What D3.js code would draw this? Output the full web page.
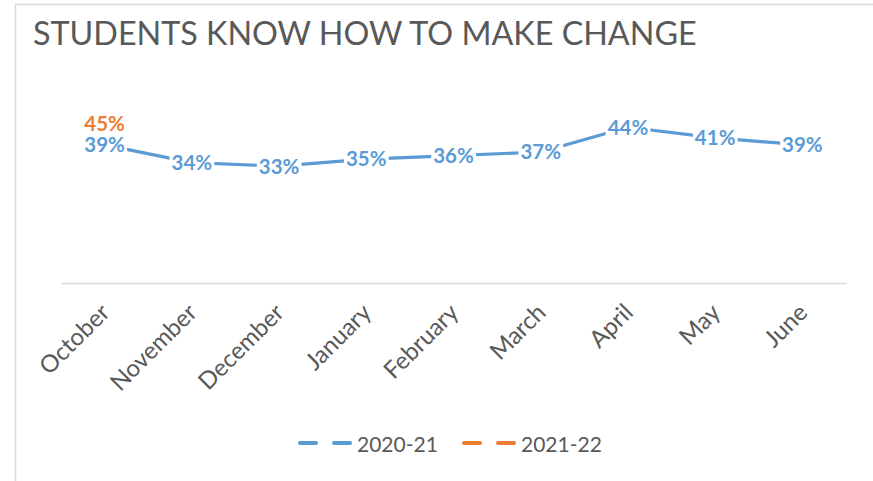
<!DOCTYPE html>
<html>
<head>
<meta charset="utf-8">
<script src="https://cdn.jsdelivr.net/npm/d3@7"></script>
<style>
  html, body { margin: 0; padding: 0; background: #fff; }
  svg { display: block; font-family: Lato, "Open Sans", sans-serif; }
</style>
</head>
<body>
<svg id="chart" width="873" height="481"></svg>
<script>
'use strict';

const months = ['October', 'November', 'December', 'January', 'February', 'March', 'April', 'May', 'June'];
const values2020 = [0.39, 0.34, 0.33, 0.35, 0.36, 0.37, 0.44, 0.41, 0.39];
const values2021 = [0.45];
const seriesNames = ['2020-21', '2021-22'];
const seriesColors = ['#5b9bd5', '#ed7d31'];
const yDomain = [0, 0.5];

const svg = d3.select('#chart');
const textColor = '#595959';

// chart frame (cropped at right / bottom)
svg.append('rect')
  .attr('x', 15.5).attr('y', 4.5)
  .attr('width', 900).attr('height', 520)
  .attr('fill', 'none')
  .attr('stroke', '#d9d9d9')
  .attr('stroke-width', 1.5);

// title
const title = svg.append('text')
  .attr('x', 33).attr('y', 45)
  .attr('fill', textColor)
  .attr('font-size', 34)
  .text('STUDENTS KNOW HOW TO MAKE CHANGE');
const tw = title.node().getComputedTextLength();
title.attr('font-size', 34 * 664 / tw);

const plot = { left: 61, right: 846, top: 106, bottom: 283 };

const x = d3.scalePoint()
  .domain(months)
  .range([plot.left, plot.right])
  .padding(0.5);

const y = d3.scaleLinear()
  .domain(yDomain)
  .range([plot.bottom, plot.top]);

// category axis
const xAxis = svg.append('g')
  .attr('transform', `translate(0, ${plot.bottom})`)
  .call(d3.axisBottom(x).tickSize(0).tickSizeOuter(0));
xAxis.select('.domain')
  .attr('stroke', '#d9d9d9')
  .attr('stroke-width', 1.5);
xAxis.selectAll('.tick text')
  .attr('font-size', 24)
  .attr('font-family', 'Lato, sans-serif')
  .attr('fill', textColor)
  .attr('text-anchor', 'end')
  .attr('x', 0).attr('y', 0).attr('dy', 0)
  .attr('transform', 'translate(6, 31) rotate(-45)');

// lines
const line = d3.line()
  .x(function (d, i) { return x(months[i]); })
  .y(function (d) { return y(d); });

const allSeries = [values2020, values2021];

allSeries.forEach(function (vals, si) {
  svg.append('path')
    .datum(vals)
    .attr('fill', 'none')
    .attr('stroke', seriesColors[si])
    .attr('stroke-width', 3.2)
    .attr('stroke-linejoin', 'round')
    .attr('d', line);
});

// data labels with white backing so the line stops at them
allSeries.forEach(function (vals, si) {
  const g = svg.append('g');
  const lab = g.selectAll('g')
    .data(vals)
    .enter().append('g')
      .attr('transform', function (d, i) {
        return `translate(${x(months[i])}, ${y(d)})`;
      });
  lab.append('rect')
    .attr('fill', '#fff');
  lab.append('text')
    .attr('text-anchor', 'middle')
    .attr('dy', '0.36em')
    .attr('font-size', 20.5)
    .attr('font-weight', 700)
    .attr('fill', seriesColors[si])
    .text(function (d) { return d3.format('.0%')(d); });
  lab.each(function () {
    const node = d3.select(this);
    const bb = node.select('text').node().getBBox();
    node.select('rect')
      .attr('x', bb.x - 2).attr('y', bb.y + 2)
      .attr('width', bb.width + 4).attr('height', bb.height - 4);
  });
});

// legend
const legendItems = [
  { name: seriesNames[0], color: seriesColors[0], x: 300 },
  { name: seriesNames[1], color: seriesColors[1], x: 464 }
];
const legend = svg.append('g').attr('transform', 'translate(0, 443)');
const li = legend.selectAll('g')
  .data(legendItems)
  .enter().append('g')
    .attr('transform', function (d) { return `translate(${d.x}, 0)`; });
li.append('line')
  .attr('x1', 0).attr('x2', 50)
  .attr('stroke', function (d) { return d.color; })
  .attr('stroke-width', 4)
  .attr('stroke-linecap', 'round')
  .attr('stroke-dasharray', '16 18');
li.append('text')
  .attr('x', 57).attr('y', 9)
  .attr('font-size', 21)
  .attr('fill', textColor)
  .text(function (d) { return d.name; });
</script>
</body>
</html>
